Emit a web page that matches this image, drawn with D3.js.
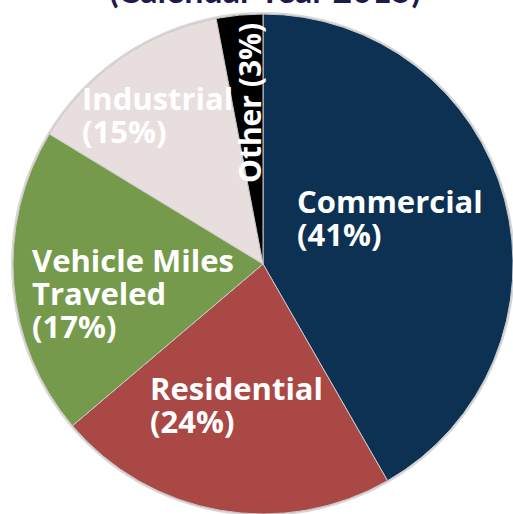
<!DOCTYPE html>
<html>
<head>
<meta charset="utf-8">
<script src="https://cdn.jsdelivr.net/npm/d3@7"></script>
<style>
  body { margin: 0; background: #fff; }
  svg { display: block; }
</style>
</head>
<body>
<div id="container"></div>
<script>
// Size of the page
const width = 513, height = 514;

// Slice data (share of the circle, in %)
const sectors = ["Commercial", "Residential", "Vehicle Miles Traveled", "Industrial", "Other"];
const shares = [41.7, 22.1, 19.9, 13.3, 3.0];
// Percent text printed on each slice
const pctLabels = ["41%", "24%", "17%", "15%", "3%"];
// Label lines for each slice
const labelLines = [
    ["Commercial"],
    ["Residential"],
    ["Vehicle Miles", "Traveled"],
    ["Industrial"],
    []
];

const colors = d3.scaleOrdinal()
    .domain(sectors)
    .range(["#0c3153", "#aa4846", "#769a4b", "#e8dedd", "#000000"]);

const cx = 263, cy = 264, radius = 250;

const svg = d3.select("#container")
    .append("svg")
    .attr("width", width)
    .attr("height", height);

// Title, mostly cut off by the top of the frame
svg.append("text")
    .attr("x", 265)
    .attr("y", 3)
    .attr("text-anchor", "middle")
    .attr("font-family", "Lato, 'Open Sans', sans-serif")
    .attr("font-weight", "bold")
    .attr("font-size", 34)
    .attr("fill", "#1d1b4c")
    .text("(Calendar Year 2015)");

const pieData = d3.pie()
    .value(d => d)
    .sort(null)(shares);

const arc = d3.arc()
    .innerRadius(0)
    .outerRadius(radius);

const g = svg.append("g")
    .attr("transform", `translate(${cx},${cy})`);

// Soft outline round the pie
g.append("circle")
    .attr("r", radius + 1)
    .attr("fill", "none")
    .attr("stroke", "#d8d8d8")
    .attr("stroke-width", 2);

g.selectAll("path")
    .data(pieData)
    .enter()
    .append("path")
    .attr("d", arc)
    .attr("fill", (d, i) => colors(sectors[i]))
    .attr("stroke", "#c8c8c8")
    .attr("stroke-width", 1);

// Where each label starts (left edge, first baseline), relative to the centre
const labelPos = [[34, -51], [-113, 136], [-231, 8], [-181, -154]];
const lineH = 33;

const labels = g.append("g")
    .attr("font-family", "'Open Sans', sans-serif")
    .attr("font-weight", "bold")
    .attr("font-size", 31)
    .attr("fill", "#fff");

labelPos.forEach((p, i) => {
    const t = labels.append("text")
        .attr("x", p[0])
        .attr("y", p[1]);
    const lines = labelLines[i].concat([`(${pctLabels[i]})`]);
    lines.forEach((line, j) => {
        t.append("tspan")
            .attr("x", p[0])
            .attr("dy", j === 0 ? 0 : lineH)
            .text(line);
    });
});

// The thin "Other" slice gets a rotated label
labels.append("text")
    .attr("transform", "translate(-2,-81) rotate(-90)")
    .attr("font-size", 30)
    .text(`Other (${pctLabels[4]})`);
</script>
</body>
</html>
